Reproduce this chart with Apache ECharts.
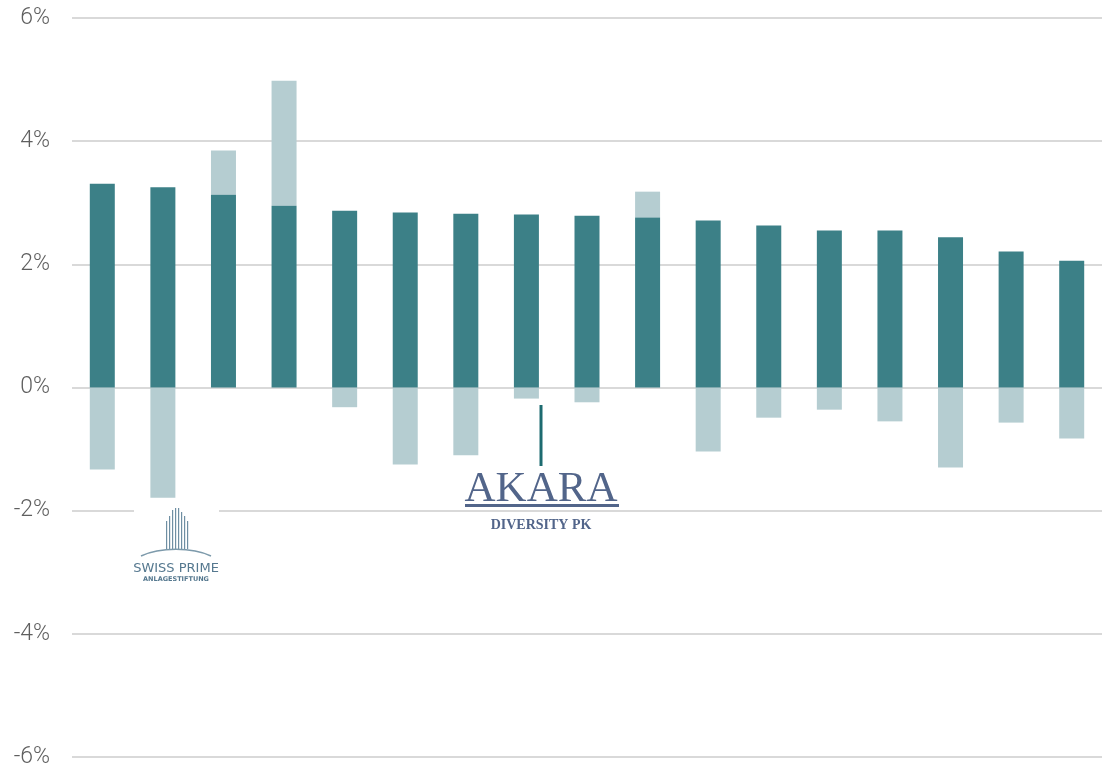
<!DOCTYPE html>
<html>
<head>
<meta charset="utf-8">
<script src="https://cdn.jsdelivr.net/npm/echarts@6/dist/echarts.min.js"></script>
<style>
  html, body { margin: 0; padding: 0; background: #fff; }
  #chart { width: 1102px; height: 771px; }
</style>
</head>
<body>
<div id="chart"></div>
<script>
// one entry per fund, left to right
var funds = ['F1', 'F2', 'F3', 'F4', 'F5', 'F6', 'F7', 'F8', 'F9', 'F10', 'F11', 'F12', 'F13', 'F14', 'F15', 'F16', 'F17'];
// main value (dark bars), in %
var base = [3.31, 3.25, 3.13, 2.95, 2.87, 2.84, 2.82, 2.81, 2.79, 2.76, 2.71, 2.63, 2.55, 2.55, 2.44, 2.21, 2.06];
// top of the light bar above, where there is one (else null)
var high = [null, null, 3.85, 4.98, null, null, null, null, null, 3.18, null, null, null, null, null, null, null];
// light bar below zero, where there is one
var low = [-1.33, -1.79, null, null, -0.32, -1.25, -1.10, -0.18, -0.24, null, -1.04, -0.49, -0.36, -0.55, -1.30, -0.57, -0.83];
var yTicks = [-6, -4, -2, 0, 2, 4, 6];

var dark = '#3c8087';
var light = '#b5cdd1';
var logoBlue = '#6f8fa3';

var upside = high.map(function (h, i) { return h == null ? null : +(h - base[i]).toFixed(2); });

var chart = echarts.init(document.getElementById('chart'));

// building strokes of the swiss prime logo: [x, top]
var towers = [[166, 521], [169, 516], [172, 510], [175, 508], [178, 508], [181, 512], [184, 516], [187, 521]];
var logo = [
  { type: 'rect', z: 10, shape: { x: 134, y: 503, width: 85, height: 86 }, style: { fill: '#fff' } }
];
towers.forEach(function (t) {
  logo.push({ type: 'rect', z: 11, shape: { x: t[0], y: t[1], width: 1.2, height: 549 - t[1] }, style: { fill: logoBlue } });
});
logo.push(
  { type: 'bezierCurve', z: 11, shape: { x1: 141, y1: 556, x2: 211, y2: 556, cpx1: 160, cpy1: 547, cpx2: 192, cpy2: 547 }, style: { stroke: '#7d9aab', lineWidth: 1.5, fill: 'none' } },
  { type: 'text', z: 11, x: 176, y: 569, style: { text: 'SWISS PRIME', fontSize: 13, fontFamily: 'DejaVu Sans', fill: '#55788f', align: 'center', verticalAlign: 'middle' } },
  { type: 'text', z: 11, x: 176, y: 579, style: { text: 'ANLAGESTIFTUNG', fontSize: 6.5, fontWeight: 'bold', fontFamily: 'DejaVu Sans', fill: '#55788f', align: 'center', verticalAlign: 'middle' } },
  // akara logo
  { type: 'rect', z: 11, shape: { x: 539.5, y: 405, width: 3, height: 61 }, style: { fill: '#1d6b70' } },
  { type: 'text', z: 11, x: 541, y: 511, style: { text: 'AKARA', fontSize: 43, fontFamily: 'Liberation Serif', fill: '#52658a', align: 'center', verticalAlign: 'bottom' } },
  { type: 'rect', z: 11, shape: { x: 465, y: 504, width: 154, height: 3 }, style: { fill: '#52658a' } },
  { type: 'text', z: 11, x: 541, y: 525, style: { text: 'DIVERSITY PK', fontSize: 14, fontWeight: 'bold', fontFamily: 'Liberation Serif', fill: '#52658a', align: 'center', verticalAlign: 'middle' } }
);

chart.setOption({
  animation: false,
  grid: { left: 72, right: 0, top: 18, bottom: 14 },
  xAxis: {
    type: 'category',
    data: funds,
    axisLine: { show: false },
    axisTick: { show: false },
    axisLabel: { show: false }
  },
  yAxis: {
    type: 'value',
    min: yTicks[0],
    max: yTicks[yTicks.length - 1],
    interval: 2,
    axisLine: { show: false },
    axisTick: { show: false },
    splitLine: { lineStyle: { color: '#d9d9d9', width: 2 } },
    axisLabel: {
      margin: 22,
      fontSize: 23,
      color: '#5f5f5f',
      fontFamily: 'Roboto',
      fontWeight: 300,
      formatter: function (v) { return v + '%'; }
    }
  },
  series: [
    { type: 'bar', stack: 'a', data: base, barWidth: 25, itemStyle: { color: dark }, z: 3 },
    { type: 'bar', stack: 'a', data: upside, barWidth: 25, itemStyle: { color: light } },
    { type: 'bar', stack: 'a', data: low, barWidth: 25, itemStyle: { color: light } }
  ],
  graphic: logo
});
</script>
</body>
</html>
